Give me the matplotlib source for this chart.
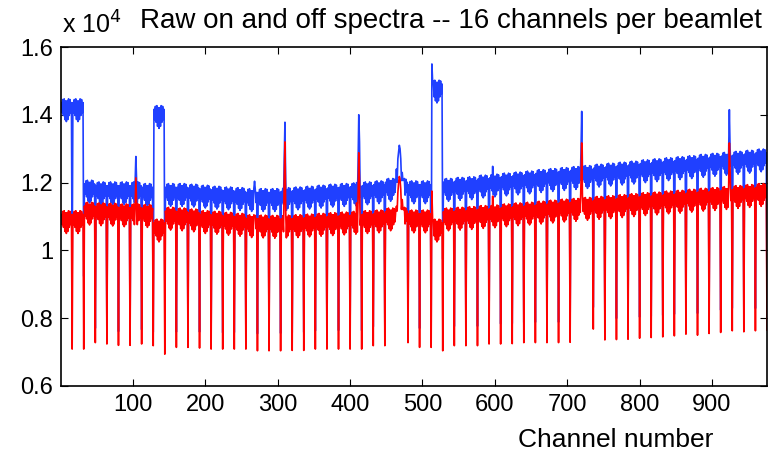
import numpy as np
import matplotlib
matplotlib.use("Agg")
import matplotlib.pyplot as plt

plt.rcParams['font.family'] = ['Liberation Sans', 'DejaVu Sans']

# 61 beamlets x 16 channels, values in units of 1e4
n_chan = 16

# mean level of each beamlet (on = blue, off = red)
on_level = [1.42, 1.42, 1.18, 1.175, 1.175, 1.175, 1.175, 1.17, 1.40, 1.17,
            1.17, 1.168, 1.165, 1.162, 1.16, 1.158, 1.155, 1.155, 1.155, 1.158,
            1.16, 1.162, 1.165, 1.168, 1.17, 1.172, 1.175, 1.178, 1.185, 1.185,
            1.178, 1.178, 1.475, 1.185, 1.188, 1.19, 1.195, 1.198, 1.201, 1.204,
            1.207, 1.211, 1.214, 1.217, 1.220, 1.223, 1.227, 1.230, 1.233, 1.236,
            1.240, 1.243, 1.246, 1.249, 1.252, 1.256, 1.259, 1.262, 1.265, 1.268,
            1.272]
off_level = [1.09, 1.09, 1.115, 1.113, 1.112, 1.11, 1.11, 1.108, 1.065, 1.10,
             1.098, 1.095, 1.09, 1.088, 1.085, 1.082, 1.078, 1.077, 1.076, 1.077,
             1.078, 1.08, 1.082, 1.084, 1.086, 1.088, 1.09, 1.092, 1.098, 1.10,
             1.092, 1.092, 1.065, 1.098, 1.10, 1.102, 1.105, 1.107, 1.110, 1.113,
             1.115, 1.118, 1.121, 1.124, 1.126, 1.129, 1.132, 1.134, 1.137, 1.140,
             1.143, 1.145, 1.148, 1.150, 1.153, 1.156, 1.158, 1.161, 1.164, 1.167,
             1.170]

# last channel of every beamlet (off spectrum)
off_edge = [0.709, 0.709, 0.728, 0.724, 0.720, 0.720, 0.724, 0.719, 0.694, 0.714,
            0.714, 0.712, 0.709, 0.709, 0.709, 0.709, 0.704, 0.704, 0.704, 0.705,
            0.705, 0.709, 0.709, 0.709, 0.709, 0.709, 0.719, 0.719, 0.725, 0.728,
            0.714, 0.714, 0.704, 0.719, 0.719, 0.719, 0.724, 0.724, 0.725, 0.728,
            0.728, 0.728, 0.728, 0.729, 0.807, 0.768, 0.736, 0.737, 0.738, 0.741,
            0.743, 0.745, 0.748, 0.753, 0.750, 0.755, 0.758, 0.763, 0.760, 0.763,
            0.765]

# ripple across the first 15 channels of a beamlet
ripple = [0.016, -0.014, 0.025, -0.022, 0.027, -0.034, 0.021, -0.040,
          0.021, -0.034, 0.027, -0.022, 0.025, -0.014, 0.016]

# interference channels: (channel, on, off)
rfi_chan = [103, 104, 105, 268, 309, 310, 311, 409, 411, 412, 413,
            464, 466, 467, 468, 469, 470, 472, 474,
            513, 514, 597, 719, 720, 721, 924, 925]
rfi_on = [1.20, 1.277, 1.21, 1.204, 1.27, 1.378, 1.21, 1.20, 1.25, 1.40, 1.32,
          1.24, 1.27, 1.29, 1.31, 1.30, 1.27, 1.23, 1.21,
          1.55, 1.50, 1.248, 1.29, 1.41, 1.24, 1.415, 1.30]
rfi_off = [1.12, 1.214, 1.14, 1.10, 1.20, 1.32, 1.12, 1.14, 1.15, 1.288, 1.20,
           1.13, 1.17, 1.20, 1.218, 1.21, 1.18, 1.15, 1.12,
           1.175, 1.09, 1.16, 1.20, 1.317, 1.16, 1.317, 1.24]

channel = np.arange(1, len(on_level) * n_chan + 1)
on = np.empty(channel.size)
off = np.empty(channel.size)
for k in range(len(on_level)):
    s = k * n_chan
    on[s:s + 15] = on_level[k] + np.array(ripple)
    off[s:s + 15] = off_level[k] + np.array(ripple)
    off[s + 15] = off_edge[k]
    on[s + 15] = off_edge[k] * on_level[k] / off_level[k]
for c, a, b in zip(rfi_chan, rfi_on, rfi_off):
    on[c - 1] = a
    off[c - 1] = b

fig = plt.figure(figsize=(7.71, 4.58), dpi=100)
ax = fig.add_axes([61.3 / 771, 1 - 386 / 458, (767 - 61.3) / 771, (386 - 47) / 458])

ax.plot(channel, on, color='#2040ff', lw=1.2)
ax.plot(channel, off, color='#ff0000', lw=1.2)

ax.set_xlim(1, 976)
ax.set_ylim(0.6, 1.6)
ax.set_xticks(np.arange(100, 1000, 100))
ax.set_yticks([0.6, 0.8, 1.0, 1.2, 1.4, 1.6])
ax.set_yticklabels(['0.6', '0.8', '1', '1.2', '1.4', '1.6'])
ax.tick_params(direction='in', top=True, right=True, length=5, width=0.8,
               labelsize=17, pad=6)
for sp in ax.spines.values():
    sp.set_linewidth(1.2)

fig.text(62 / 771, 1 - 34 / 458, r'x 10$^{4}$', fontsize=18, va='baseline')
ax.text(0.552, 1.056, 'Raw on and off spectra -- 16 channels per beamlet',
        transform=ax.transAxes, ha='center', va='baseline', fontsize=20)
ax.set_xlabel('Channel number', fontsize=19)
ax.xaxis.set_label_coords(0.786, -0.125)

fig.savefig('out.png', dpi=100)
